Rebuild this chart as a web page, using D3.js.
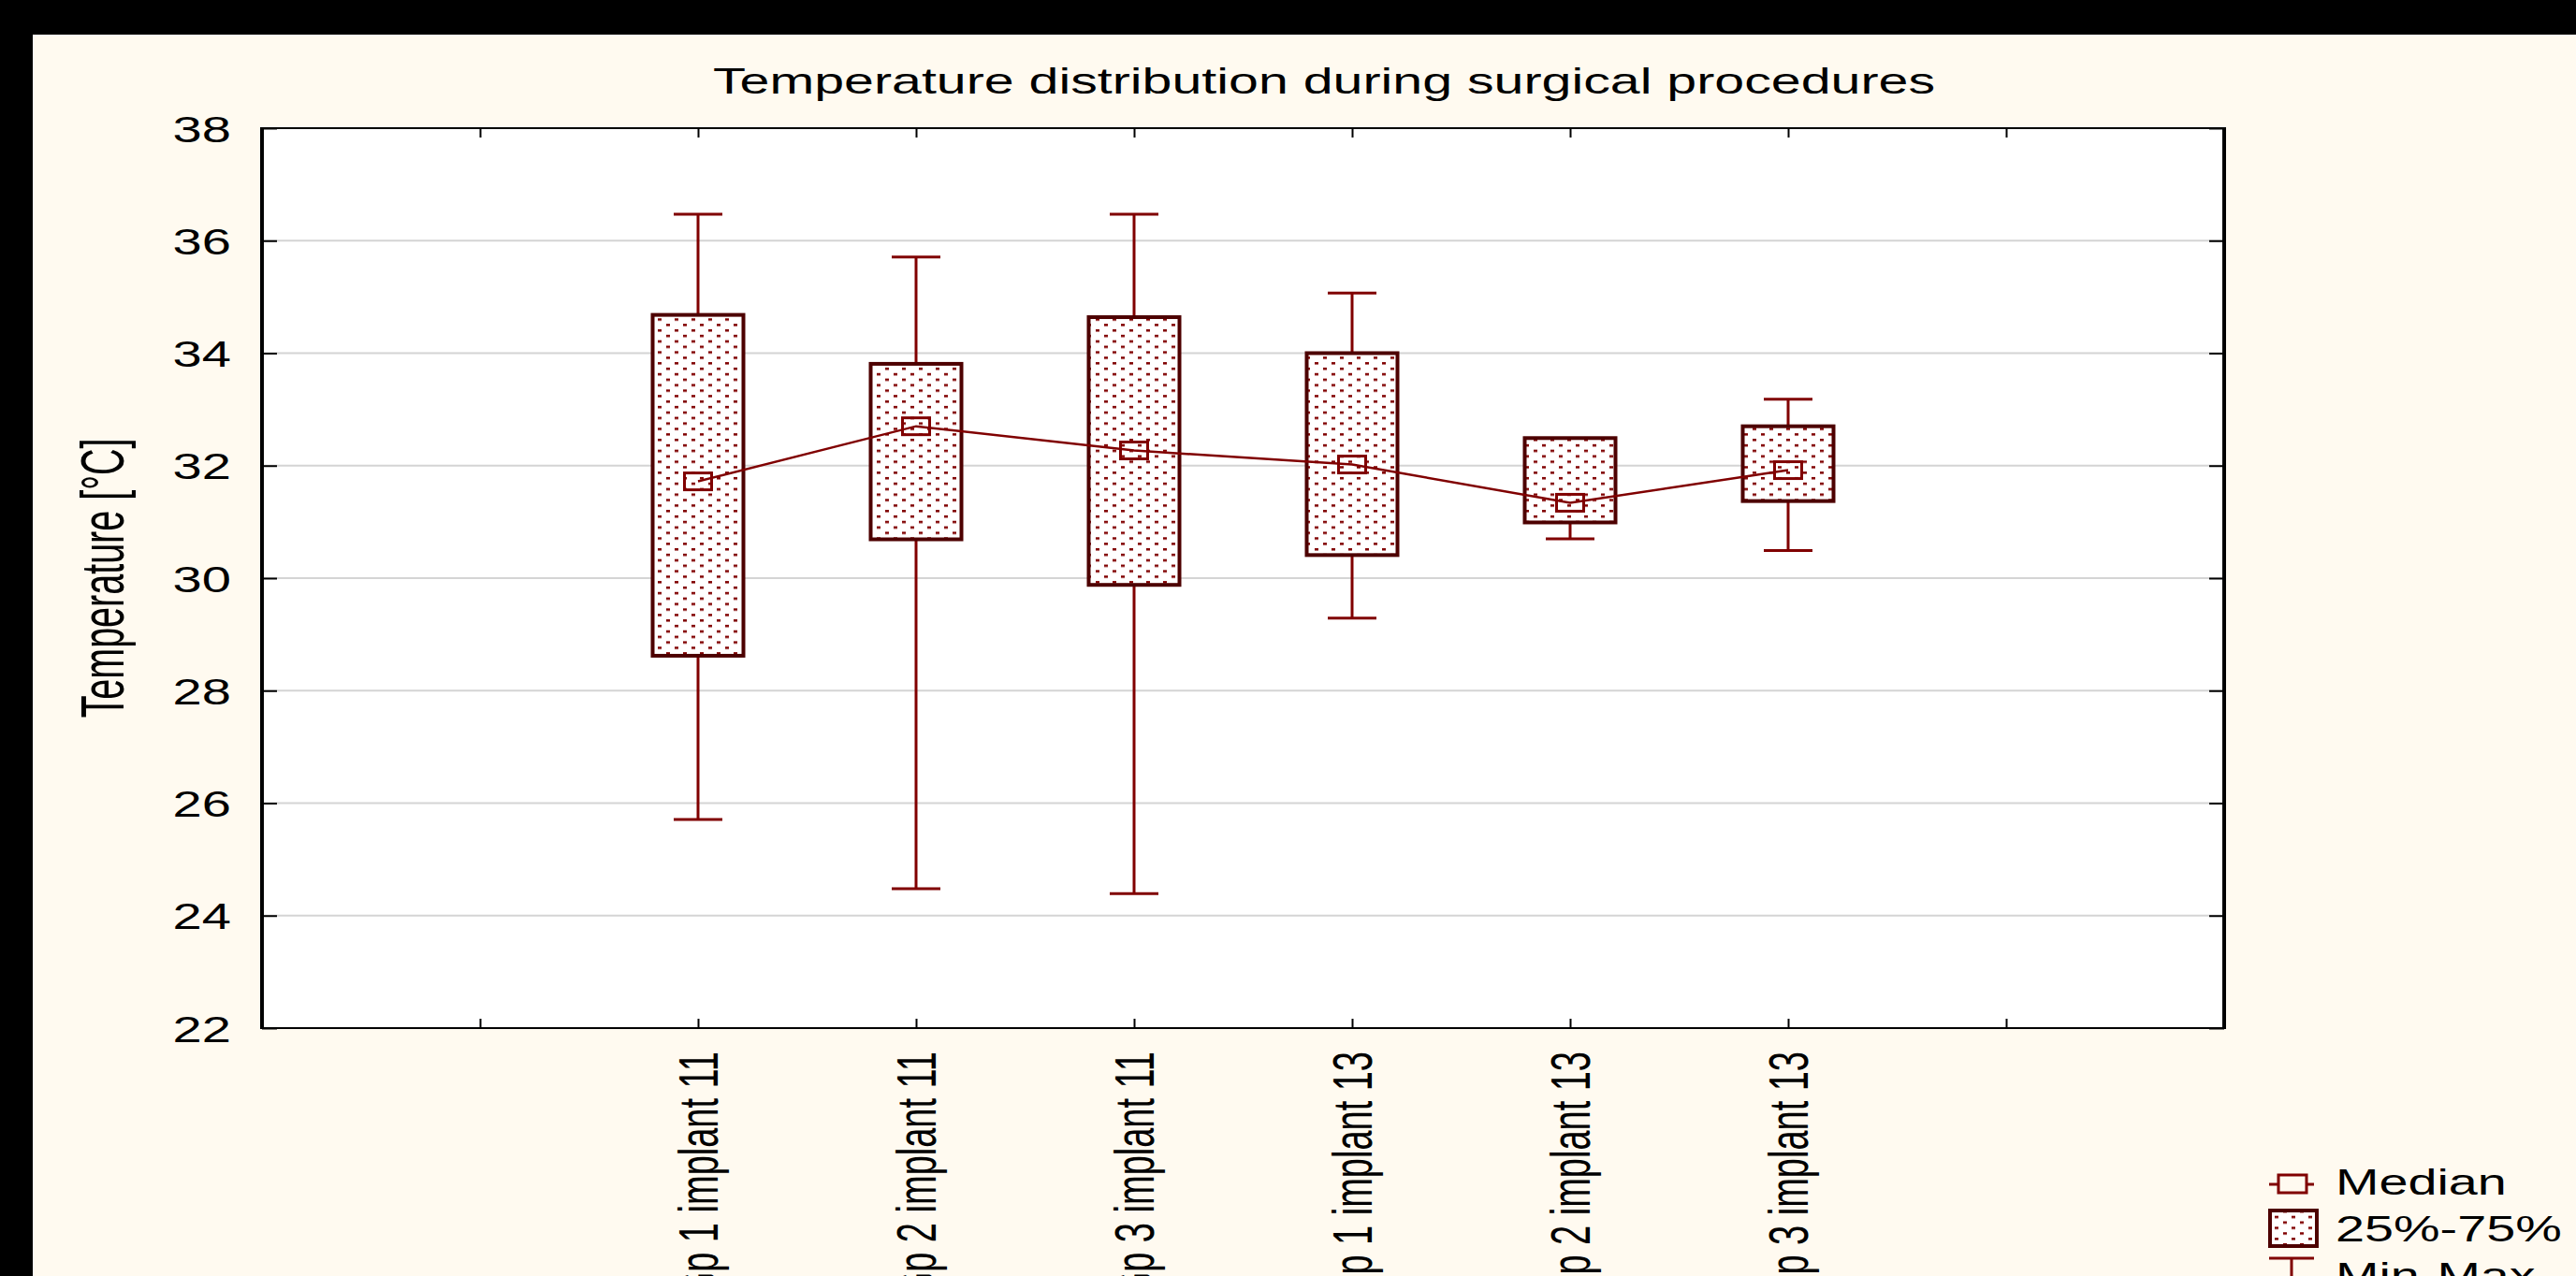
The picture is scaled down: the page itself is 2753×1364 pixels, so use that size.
<!DOCTYPE html>
<html>
<head>
<meta charset="utf-8">
<script src="https://cdn.jsdelivr.net/npm/d3@7"></script>
<style>
  body { margin: 0; background: #000; overflow: hidden; }
  svg { display: block; }
</style>
</head>
<body>
<script>
// box plot values
var categories = ['Gp 1 implant 11', 'Gp 2 implant 11', 'Gp 3 implant 11',
                  'Gp 1 implant 13', 'Gp 2 implant 13', 'Gp 3 implant 13'];
var maxVals    = [36.47, 35.71, 36.47, 35.07, 32.49, 33.18];
var q3Vals     = [34.68, 33.81, 34.64, 34.00, 32.49, 32.70];
var medianVals = [31.72, 32.70, 32.27, 32.02, 31.34, 31.92];
var q1Vals     = [28.62, 30.69, 29.88, 30.41, 30.99, 31.37];
var minVals    = [25.71, 24.48, 24.39, 29.29, 30.70, 30.49];
var yTicks     = [22, 24, 26, 28, 30, 32, 34, 36, 38];
var xTicks     = [1, 2, 3, 4, 5, 6, 7, 8];
var legendLabels = ['Median', '25%-75%', 'Min-Max'];

const W = 2753, H = 1364;
const plotL = 280, plotR = 2377, plotT = 137, plotB = 1099;
const font = '"Liberation Sans", Arial, sans-serif';
const red = '#800000', darkRed = '#4d0000';

var svg = d3.select('body').append('svg')
  .attr('width', W)
  .attr('height', H)

// black frame strips + beige page
svg.append('rect').attr('width', W).attr('height', H).attr('fill', '#000')
svg.append('rect').attr('x', 35).attr('y', 37).attr('width', W - 35).attr('height', H - 37).attr('fill', '#fffaf0')

// dotted fill for the boxes
var pat = svg.append('defs').append('pattern')
  .attr('id', 'dots')
  .attr('patternUnits', 'userSpaceOnUse')
  .attr('width', 18)
  .attr('height', 11.7)
pat.append('rect').attr('width', 18).attr('height', 11.7).attr('fill', '#fff')
pat.append('rect').attr('x', 1).attr('y', 1).attr('width', 4).attr('height', 2.5).attr('fill', red)
pat.append('rect').attr('x', 10).attr('y', 6.85).attr('width', 4).attr('height', 2.5).attr('fill', red)

var yScale = d3.scaleLinear().domain([22, 38]).range([plotB, plotT])
var xScale = d3.scaleLinear().domain([0, 9]).range([plotL, plotR])

svg.append('rect')
  .attr('x', plotL).attr('y', plotT)
  .attr('width', plotR - plotL).attr('height', plotB - plotT)
  .attr('fill', '#fff')

// gridlines
svg.selectAll('.grid')
  .data(yTicks.slice(1, -1))
  .enter()
  .append('line')
  .attr('x1', plotL).attr('x2', plotR)
  .attr('y1', d => yScale(d)).attr('y2', d => yScale(d))
  .attr('stroke', '#d4d4d4')
  .attr('stroke-width', 2)

// axes (ticks inside the plot)
var yAxis = d3.axisLeft(yScale).tickValues(yTicks).tickSizeInner(-16).tickSizeOuter(0).tickPadding(33)
var gy = svg.append('g').attr('transform', 'translate(' + plotL + ',0)').call(yAxis)
gy.selectAll('text')
  .attr('x', null)
  .attr('dy', '0.36em')
  .attr('transform', 'translate(-33,0) scale(1.44,1)')
  .attr('font-size', 39)
  .attr('font-family', font)
  .attr('fill', '#000')

svg.append('g').attr('transform', 'translate(' + plotR + ',0)')
  .call(d3.axisRight(yScale).tickValues(yTicks).tickSizeInner(-16).tickSizeOuter(0).tickFormat(''))
svg.append('g').attr('transform', 'translate(0,' + plotT + ')')
  .call(d3.axisTop(xScale).tickValues(xTicks).tickSizeInner(-10).tickSizeOuter(0).tickFormat(''))
svg.append('g').attr('transform', 'translate(0,' + plotB + ')')
  .call(d3.axisBottom(xScale).tickValues(xTicks).tickSizeInner(-10).tickSizeOuter(0).tickFormat(''))

svg.selectAll('.domain').remove()
svg.selectAll('.tick line').attr('stroke', '#000').attr('stroke-width', 2)

// boxes
var boxes = svg.selectAll('.box')
  .data(categories)
  .enter()
  .append('g')

// upper whisker only where max sits above the box
var upper = boxes.filter((d, i) => maxVals[i] > q3Vals[i])
upper.append('line')
  .attr('x1', d => xScale(categories.indexOf(d) + 2)).attr('x2', d => xScale(categories.indexOf(d) + 2))
  .attr('y1', d => yScale(maxVals[categories.indexOf(d)])).attr('y2', d => yScale(q3Vals[categories.indexOf(d)]))
  .attr('stroke', red).attr('stroke-width', 3)
upper.append('line')
  .attr('x1', d => xScale(categories.indexOf(d) + 2) - 26).attr('x2', d => xScale(categories.indexOf(d) + 2) + 26)
  .attr('y1', d => yScale(maxVals[categories.indexOf(d)])).attr('y2', d => yScale(maxVals[categories.indexOf(d)]))
  .attr('stroke', red).attr('stroke-width', 3)

boxes.append('line')
  .attr('x1', (d, i) => xScale(i + 2)).attr('x2', (d, i) => xScale(i + 2))
  .attr('y1', (d, i) => yScale(q1Vals[i])).attr('y2', (d, i) => yScale(minVals[i]))
  .attr('stroke', red).attr('stroke-width', 3)
boxes.append('line')
  .attr('x1', (d, i) => xScale(i + 2) - 26).attr('x2', (d, i) => xScale(i + 2) + 26)
  .attr('y1', (d, i) => yScale(minVals[i])).attr('y2', (d, i) => yScale(minVals[i]))
  .attr('stroke', red).attr('stroke-width', 3)

boxes.append('rect')
  .attr('x', (d, i) => xScale(i + 2) - 48.5)
  .attr('width', 97)
  .attr('y', (d, i) => yScale(q3Vals[i]))
  .attr('height', (d, i) => yScale(q1Vals[i]) - yScale(q3Vals[i]))
  .attr('fill', 'url(#dots)')
  .attr('stroke', darkRed)
  .attr('stroke-width', 4)

// median line + markers
var line = d3.line()
  .x((d, i) => xScale(i + 2))
  .y(d => yScale(d))

svg.append('path')
  .datum(medianVals)
  .attr('d', line)
  .attr('fill', 'none')
  .attr('stroke', red)
  .attr('stroke-width', 2.5)

svg.selectAll('.med')
  .data(medianVals)
  .enter()
  .append('rect')
  .attr('x', (d, i) => xScale(i + 2) - 14.5)
  .attr('y', d => yScale(d) - 9)
  .attr('width', 29)
  .attr('height', 18)
  .attr('fill', 'none')
  .attr('stroke', red)
  .attr('stroke-width', 3)

// borders
svg.append('line').attr('x1', plotL).attr('x2', plotR).attr('y1', plotT).attr('y2', plotT).attr('stroke', '#000').attr('stroke-width', 2)
svg.append('line').attr('x1', plotL).attr('x2', plotR).attr('y1', plotB).attr('y2', plotB).attr('stroke', '#000').attr('stroke-width', 2)
svg.append('line').attr('x1', plotL).attr('x2', plotL).attr('y1', plotT - 1).attr('y2', plotB + 1).attr('stroke', '#000').attr('stroke-width', 4)
svg.append('line').attr('x1', plotR).attr('x2', plotR).attr('y1', plotT - 1).attr('y2', plotB + 1).attr('stroke', '#000').attr('stroke-width', 4)

// category labels, rotated (run past the bottom edge, as in the original)
svg.selectAll('.xlab')
  .data(categories)
  .enter()
  .append('text')
  .attr('transform', (d, i) => 'translate(' + (xScale(i + 2) + 21) + ',1124) scale(1.55,1) rotate(-90)')
  .attr('text-anchor', 'end')
  .attr('font-size', 38)
  .attr('font-family', font)
  .text(d => d)

// titles
svg.append('text')
  .attr('transform', 'translate(1415,100) scale(1.47,1)')
  .attr('text-anchor', 'middle')
  .attr('font-size', 39)
  .attr('font-family', font)
  .text('Temperature distribution during surgical procedures')

svg.append('text')
  .attr('transform', 'translate(132,618) scale(1.65,1) rotate(-90)')
  .attr('text-anchor', 'middle')
  .attr('font-size', 39.5)
  .attr('font-family', font)
  .text('Temperature [°C]')

// legend
var lg = svg.append('g')
lg.append('line').attr('x1', 2425).attr('x2', 2473).attr('y1', 1266).attr('y2', 1266).attr('stroke', red).attr('stroke-width', 3)
lg.append('rect').attr('x', 2435).attr('y', 1256).attr('width', 30).attr('height', 19).attr('fill', '#fffaf0').attr('stroke', red).attr('stroke-width', 3)
lg.append('rect').attr('x', 2426).attr('y', 1294).attr('width', 50).attr('height', 38).attr('fill', 'url(#dots)').attr('stroke', darkRed).attr('stroke-width', 4)
lg.append('line').attr('x1', 2425).attr('x2', 2473).attr('y1', 1345).attr('y2', 1345).attr('stroke', red).attr('stroke-width', 3)
lg.append('line').attr('x1', 2449).attr('x2', 2449).attr('y1', 1345).attr('y2', 1364).attr('stroke', red).attr('stroke-width', 3)

lg.selectAll('.ltxt')
  .data(legendLabels)
  .enter()
  .append('text')
  .attr('transform', (d, i) => 'translate(2496,' + (1277 + i * 50) + ') scale(1.43,1)')
  .attr('font-size', 39)
  .attr('font-family', font)
  .text(d => d)
</script>
</body>
</html>
